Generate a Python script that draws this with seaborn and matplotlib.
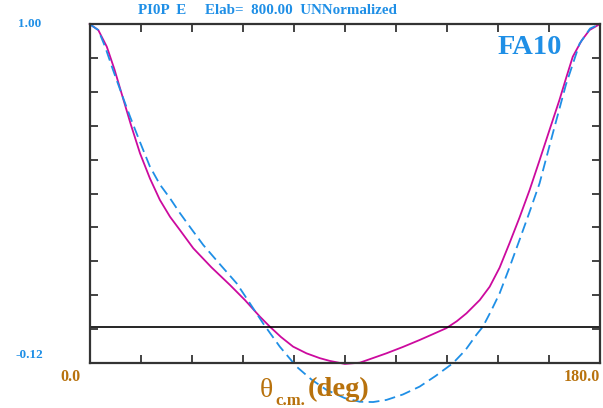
import numpy as np
import pandas as pd
import matplotlib
matplotlib.use("Agg")
import matplotlib.pyplot as plt
import seaborn as sns

# solid magenta curve
theta_a = [0, 3.1, 6.1, 8.8, 11.3, 14.5, 17.8, 21.3, 24.8, 28.4, 31.9, 36.6,
           43.0, 49.5, 54.8, 60.1, 63.6, 67.5, 71.8, 76.5, 81.2, 84.7, 90.0,
           95.3, 104.7, 110.5, 116.4, 121.0, 125.8, 129.5, 132.9, 137.6,
           141.1, 144.6, 148.1, 151.6, 155.2, 158.7, 162.2, 165.7, 168.0,
           170.4, 173.5, 176.3, 180.0]
vals_a = [1.0, 0.98, 0.925, 0.85, 0.771, 0.67, 0.573, 0.49, 0.419, 0.363,
          0.319, 0.259, 0.196, 0.138, 0.088, 0.033, 0.0, -0.034, -0.066,
          -0.088, -0.104, -0.113, -0.123, -0.119, -0.088, -0.067, -0.044,
          -0.025, -0.005, 0.018, 0.044, 0.088, 0.132, 0.195, 0.276, 0.36,
          0.452, 0.55, 0.65, 0.749, 0.82, 0.892, 0.945, 0.98, 1.0]

# dashed blue curve
theta_b = [0, 3.1, 5.5, 8.3, 11.3, 14.3, 17.8, 21.3, 24.8, 28.4, 31.9, 36.0,
           40.1, 46.0, 51.9, 56.5, 61.2, 67.1, 73.0, 78.3, 83.6, 90.0, 95.3,
           100.0, 104.7, 110.5, 116.4, 122.0, 128.1, 132.5, 136.4, 138.7,
           141.6, 144.6, 148.1, 151.6, 155.2, 158.7, 163.4, 168.0, 172.8,
           176.5, 180.0]
vals_b = [1.0, 0.98, 0.925, 0.848, 0.77, 0.694, 0.61, 0.529, 0.47, 0.424,
          0.375, 0.322, 0.270, 0.206, 0.143, 0.078, 0.011, -0.066, -0.132,
          -0.175, -0.209, -0.236, -0.248, -0.249, -0.242, -0.224, -0.198,
          -0.163, -0.121, -0.078, -0.027, 0.0, 0.052, 0.110, 0.196, 0.286,
          0.38, 0.474, 0.64, 0.80, 0.935, 0.985, 1.0]

y_min, y_max = -0.12, 1.00
x_min, x_max = 0.0, 180.0

blue = "#1f8fe6"
magenta = "#cc0a9e"
brown = "#b8720d"

sns.set_style("ticks")
plt.rcParams["font.family"] = ["Liberation Serif", "DejaVu Serif"]

df_a = pd.DataFrame({"theta": theta_a, "val": vals_a})
df_b = pd.DataFrame({"theta": theta_b, "val": vals_b})

fig = plt.figure(figsize=(6.03, 4.08), dpi=100)
ax = fig.add_axes([89.5 / 603, 45 / 408, 510.5 / 603, 339 / 408])

sns.lineplot(data=df_a, x="theta", y="val", ax=ax, color=magenta, lw=1.3,
             sort=False, estimator=None, clip_on=False)
sns.lineplot(data=df_b, x="theta", y="val", ax=ax, color=blue, lw=1.3,
             sort=False, estimator=None, clip_on=False, linestyle=(0, (6, 3)))
ax.axhline(0, color="black", lw=1.2)

ax.set_xlim(x_min, x_max)
ax.set_ylim(y_min, y_max)
ax.set_xticks(np.linspace(x_min, x_max, 11))
ax.set_yticks(np.linspace(y_min, y_max, 11))
ax.set_xticklabels([])
ax.set_yticklabels([])
ax.set_xlabel("")
ax.set_ylabel("")
ax.tick_params(direction="in", top=True, right=True, length=6, width=1.2,
               color="#222222")
for sp in ax.spines.values():
    sp.set_visible(True)
    sp.set_linewidth(1.6)
    sp.set_color("#333333")

# axis end labels
fig.text(30 / 603, 1 - 24 / 408, "1.00", color=blue, fontsize=9.5,
         fontweight="bold", ha="center", va="center")
fig.text(29 / 603, 1 - 355 / 408, "-0.12", color=blue, fontsize=9.5,
         fontweight="bold", ha="center", va="center")
fig.text(70 / 603, 1 - 377 / 408, "0.0", color=brown, fontsize=11.5,
         fontweight="bold", ha="center", va="center")
fig.text(582 / 603, 1 - 377 / 408, "180.0", color=brown, fontsize=11.5,
         fontweight="bold", ha="center", va="center")

fig.text(266.5 / 603, 1 - 397 / 408, "θ", color=brown, fontsize=20,
         ha="center", va="baseline")
fig.text(290 / 603, 1 - 405 / 408, "c.m.", color=brown, fontsize=12,
         fontweight="bold", ha="center", va="baseline")
fig.text(339 / 603, 1 - 396 / 408, "(deg)", color=brown, fontsize=20.5,
         fontweight="bold", ha="center", va="baseline")

fig.text(267 / 603, 1 - 11 / 408, "PI0P  E     Elab=  800.00  UNNormalized",
         color=blue, fontsize=10.8, fontweight="bold", ha="center", va="center")
fig.text(530 / 603, 1 - 48 / 408, "FA10", color=blue, fontsize=20.5,
         fontweight="bold", ha="center", va="center")

fig.savefig("out.png", dpi=100)
